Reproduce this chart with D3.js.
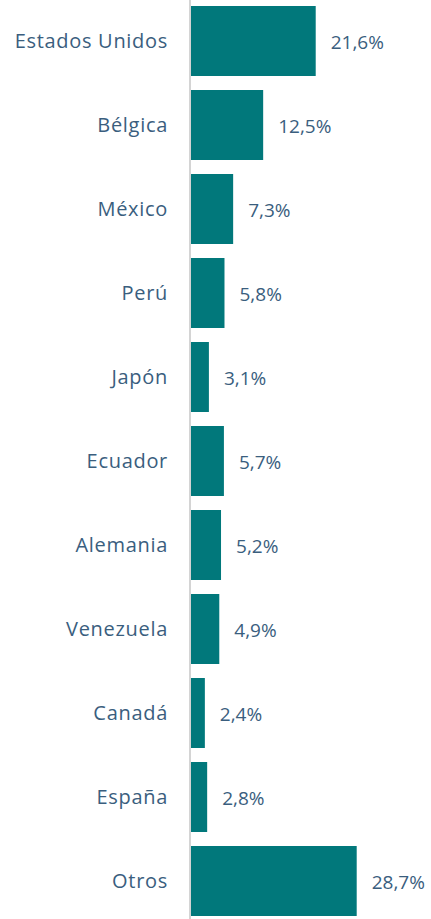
<!DOCTYPE html>
<html><head><meta charset="utf-8">
<script src="https://cdn.jsdelivr.net/npm/d3@7"></script>
<style>html,body{margin:0;padding:0;background:#fff;}</style>
</head><body>
<svg id="chart" width="431" height="919"></svg>
<script>
const categories = ["Estados Unidos","Bélgica","México","Perú","Japón","Ecuador","Alemania","Venezuela","Canadá","España","Otros"];
const values = [21.6,12.5,7.3,5.8,3.1,5.7,5.2,4.9,2.4,2.8,28.7];
const valueLabels = ["21,6%","12,5%","7,3%","5,8%","3,1%","5,7%","5,2%","4,9%","2,4%","2,8%","28,7%"];

const svg = d3.select("#chart");
const x0 = 191;
const x = d3.scaleLinear().domain([0, 28.7]).range([x0, 356.7]);
const y = d3.scaleBand().domain(categories).range([-1, 923]).paddingInner(1/6).paddingOuter(1/12);

svg.append("line").attr("x1",190).attr("x2",190).attr("y1",0).attr("y2",919)
  .attr("stroke","#d4d4d4").attr("stroke-width",2);

svg.selectAll("rect.bar").data(values).join("rect").attr("class","bar")
  .attr("x", x0).attr("y",(d,i)=>y(categories[i]))
  .attr("width", d=>x(d)-x0).attr("height", y.bandwidth())
  .attr("fill","#01787b");

const font = "'Open Sans', sans-serif";
svg.selectAll("text.cat").data(categories).join("text").attr("class","cat")
  .attr("x",168).attr("y",d=>y(d)+y.bandwidth()/2).attr("dy","0.36em")
  .attr("text-anchor","end").attr("fill","#3a5e7e")
  .style("font-family",font).style("font-size","20px").style("letter-spacing","0.7px")
  .text(d=>d);

svg.selectAll("text.val").data(values).join("text").attr("class","val")
  .attr("x",d=>x(d)+15).attr("y",(d,i)=>y(categories[i])+y.bandwidth()/2).attr("dy","0.42em")
  .attr("fill","#3a5e7e")
  .style("font-family",font).style("font-size","19px")
  .text((d,i)=>valueLabels[i]);
</script>
</body></html>
